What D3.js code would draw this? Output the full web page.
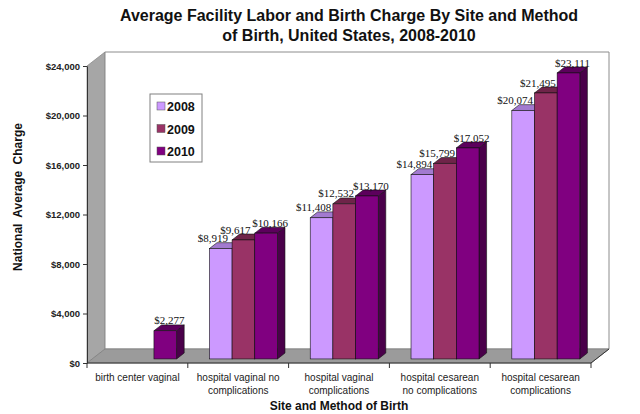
<!DOCTYPE html>
<html>
<head>
<meta charset="utf-8">
<script src="https://cdn.jsdelivr.net/npm/d3@7"></script>
<style>
  body { margin: 0; background: #fff; }
  svg { display: block; }
</style>
</head>
<body>
<svg id="chart" width="640" height="414"></svg>
<script>
// ---- data ----
var categories = [
  ["birth center vaginal"],
  ["hospital vaginal no", "complications"],
  ["hospital vaginal", "complications"],
  ["hospital cesarean", "no complications"],
  ["hospital cesarean", "complications"]
];
var years = ["2008", "2009", "2010"];
var charges2008 = [null, 8919, 11408, 14894, 20074];
var charges2009 = [null, 9617, 12532, 15799, 21495];
var charges2010 = [2277, 10166, 13170, 17052, 23111];
var yTicks = [0, 4000, 8000, 12000, 16000, 20000, 24000];

var series = [charges2008, charges2009, charges2010];

// front, top, side colours for each year
var colors = [
  { front: "#cc99ff", top: "#a27ad0", side: "#8e6ab8" },
  { front: "#993366", top: "#6f2449", side: "#662143" },
  { front: "#800080", top: "#5c005c", side: "#4a004a" }
];
// label nudge (px) from bar front centre, per year
var labelShift = [-8, -8, 4];

var svg = d3.select("#chart");

// plot box (front plane)
var plotLeft = 87, plotRight = 591, plotBottom = 363, plotTop = 66;
var depthX = 18, depthY = -14;   // full depth offset of the 3d box

var x = d3.scaleBand()
          .domain(d3.range(categories.length))
          .range([plotLeft, plotRight]);

var x1 = d3.scaleBand()
           .domain(years)
           .range([0, 68]);

var y = d3.scaleLinear()
          .domain([0, 24000])
          .range([plotBottom, plotTop]);

// project a front-plane point to a given depth (0..1)
function P(px, py, z) {
  return [px + z * depthX, py + z * depthY];
}
function poly(pts) {
  return pts.map(function(p) { return p.join(","); }).join(" ");
}

//========= walls
// left wall
svg.append("polygon")
   .attr("points", poly([P(plotLeft, plotBottom, 0), P(plotLeft, plotTop, 0), P(plotLeft, plotTop, 1), P(plotLeft, plotBottom, 1)]))
   .attr("fill", "#a6a6a6")
   .attr("stroke", "#8c8c8c")
   .attr("stroke-width", 0.8);

// back wall
svg.append("polygon")
   .attr("points", poly([P(plotLeft, plotBottom, 1), P(plotLeft, plotTop, 1), P(plotRight, plotTop, 1), P(plotRight, plotBottom, 1)]))
   .attr("fill", "#fff")
   .attr("stroke", "#8c8c8c")
   .attr("stroke-width", 1);

// floor
svg.append("polygon")
   .attr("points", poly([P(plotLeft, plotBottom, 0), P(plotLeft, plotBottom, 1), P(plotRight, plotBottom, 1), P(plotRight, plotBottom, 0)]))
   .attr("fill", "#9b9b9b")
   .attr("stroke", "#808080")
   .attr("stroke-width", 0.8);

// front floor edge
svg.append("polyline")
   .attr("points", poly([P(plotLeft, plotBottom, 0), P(plotRight, plotBottom, 0), P(plotRight, plotBottom, 1)]))
   .attr("fill", "none")
   .attr("stroke", "#333")
   .attr("stroke-width", 1);

//========= y axis
var yAxis = svg.append("g")
   .attr("transform", "translate(" + plotLeft + ",0)")
   .call(d3.axisLeft(y).tickValues(yTicks).tickSize(4).tickSizeOuter(0)
           .tickFormat(function(d) { return "$" + d3.format(",")(d); }));
yAxis.select(".domain").attr("stroke", "#333");
yAxis.selectAll(".tick line").attr("stroke", "#333");
yAxis.selectAll("text")
     .attr("font-family", "Arial, 'Liberation Sans', sans-serif")
     .attr("font-size", 9.5)
     .attr("font-weight", "bold")
     .attr("fill", "#222")
     .attr("x", -7);

//========= x axis ticks (category separators)
var sepX = d3.range(categories.length + 1).map(function(i) { return plotLeft + i * x.bandwidth(); });
svg.selectAll(".xtick")
   .data(sepX)
   .enter()
   .append("line")
   .attr("x1", function(d) { return d; })
   .attr("x2", function(d) { return d; })
   .attr("y1", plotBottom)
   .attr("y2", plotBottom + 5)
   .attr("stroke", "#333");

// category labels
var catText = svg.selectAll(".cat")
   .data(categories)
   .enter()
   .append("text")
   .attr("x", function(d, i) { return x(i) + x.bandwidth() / 2; })
   .attr("y", 381)
   .attr("text-anchor", "middle")
   .attr("font-family", "Arial, 'Liberation Sans', sans-serif")
   .attr("font-size", 10)
   .attr("fill", "#222");
catText.selectAll("tspan")
   .data(function(d) { return d; })
   .enter()
   .append("tspan")
   .attr("x", function() { return d3.select(this.parentNode).attr("x"); })
   .attr("dy", function(d, i) { return i === 0 ? 0 : 13; })
   .text(function(d) { return d; });

//========= bars
var zFront = 0.29, zBack = 0.71;
var groupOffset = (x.bandwidth() - x1.range()[1]) / 2;
var labels = [];

categories.forEach(function(cat, ci) {
  years.forEach(function(yr, si) {
    var v = series[si][ci];
    if (v == null) return;
    var x0 = x(ci) + groupOffset + x1(yr);
    var xR = x0 + x1.bandwidth();
    var yT = y(v), yB = y(0);
    var c = colors[si];
    var g = svg.append("g").attr("class", "bar");

    // side
    g.append("polygon")
     .attr("points", poly([P(xR, yB, zFront), P(xR, yT, zFront), P(xR, yT, zBack), P(xR, yB, zBack)]))
     .attr("fill", c.side)
     .attr("stroke", "#111")
     .attr("stroke-width", 0.6);
    // top
    g.append("polygon")
     .attr("points", poly([P(x0, yT, zFront), P(x0, yT, zBack), P(xR, yT, zBack), P(xR, yT, zFront)]))
     .attr("fill", c.top)
     .attr("stroke", "#111")
     .attr("stroke-width", 0.6);
    // front
    var f0 = P(x0, yT, zFront), f1 = P(xR, yB, zFront);
    g.append("rect")
     .attr("x", f0[0])
     .attr("y", f0[1])
     .attr("width", f1[0] - f0[0])
     .attr("height", f1[1] - f0[1])
     .attr("fill", c.front)
     .attr("stroke", "#111")
     .attr("stroke-width", 0.6);

    labels.push({
      x: (f0[0] + f1[0]) / 2 + labelShift[si],
      y: P(x0, yT, zBack)[1] - 0.5,
      v: v
    });
  });
});

// value labels on top of all bars
svg.selectAll(".vlabel")
   .data(labels)
   .enter()
   .append("text")
   .attr("x", function(d) { return d.x; })
   .attr("y", function(d) { return d.y; })
   .attr("text-anchor", "middle")
   .attr("font-family", "'Times New Roman', 'Liberation Serif', serif")
   .attr("font-size", 11)
   .attr("fill", "#111")
   .text(function(d) { return "$" + d3.format(",")(d.v); });

//========= legend
var legend = svg.append("g").attr("transform", "translate(150,94)");
legend.append("rect")
      .attr("width", 52)
      .attr("height", 68)
      .attr("fill", "#fff")
      .attr("stroke", "#808080")
      .attr("stroke-width", 1);
years.forEach(function(yr, i) {
  legend.append("rect")
        .attr("x", 7)
        .attr("y", 8 + i * 22.5)
        .attr("width", 8)
        .attr("height", 8)
        .attr("fill", colors[i].front)
        .attr("stroke", "#555")
        .attr("stroke-width", 0.5);
  legend.append("text")
        .attr("x", 17)
        .attr("y", 17 + i * 22.5)
        .attr("font-family", "Arial, 'Liberation Sans', sans-serif")
        .attr("font-size", 12.5)
        .attr("font-weight", "bold")
        .attr("fill", "#111")
        .text(yr);
});

//========= titles
var title = svg.append("text")
   .attr("text-anchor", "middle")
   .attr("font-family", "Arial, 'Liberation Sans', sans-serif")
   .attr("font-size", 16)
   .attr("font-weight", "bold")
   .attr("fill", "#111");
title.append("tspan").attr("x", 349).attr("y", 21)
     .text("Average Facility Labor and Birth Charge By Site and Method");
title.append("tspan").attr("x", 349).attr("y", 41)
     .text("of Birth, United States, 2008-2010");

svg.append("text")
   .attr("x", 339)
   .attr("y", 410)
   .attr("text-anchor", "middle")
   .attr("font-family", "Arial, 'Liberation Sans', sans-serif")
   .attr("font-size", 12)
   .attr("font-weight", "bold")
   .attr("fill", "#111")
   .text("Site and Method of Birth");

svg.append("text")
   .attr("transform", "translate(22,197) rotate(-90)")
   .attr("text-anchor", "middle")
   .attr("font-family", "Arial, 'Liberation Sans', sans-serif")
   .attr("font-size", 12)
   .attr("font-weight", "bold")
   .attr("word-spacing", 3)
   .attr("fill", "#111")
   .text("National Average Charge");
</script>
</body>
</html>
